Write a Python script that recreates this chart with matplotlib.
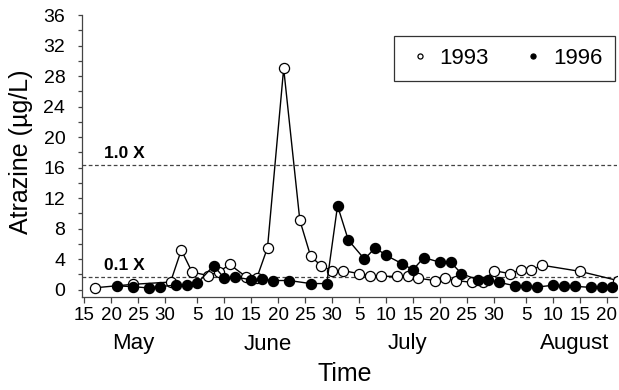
import numpy as np
import pandas as pd
import matplotlib
matplotlib.use("Agg")
import matplotlib.pyplot as plt
from matplotlib.ticker import MultipleLocator
from matplotlib.transforms import blended_transform_factory

plt.rcParams['font.family'] = ['Liberation Sans', 'DejaVu Sans']

# sampling dates (month-day) and atrazine concentrations (ug/L)
dates_1993 = ["05-17", "05-24", "05-31", "06-02", "06-04", "06-07", "06-09", "06-11",
              "06-14", "06-16", "06-18", "06-21", "06-24", "06-26", "06-28", "06-30",
              "07-02", "07-05", "07-07", "07-09", "07-12", "07-14", "07-16", "07-19",
              "07-21", "07-23", "07-26", "07-28", "07-30", "08-02", "08-04", "08-06",
              "08-08", "08-15", "08-22"]
atz_1993 = [0.25, 0.7, 1.0, 5.2, 2.3, 1.85, 2.35, 3.3,
            1.7, 1.5, 5.5, 29.0, 9.1, 4.4, 3.1, 2.5,
            2.5, 2.1, 1.85, 1.75, 1.75, 1.75, 1.5, 1.2,
            1.5, 1.2, 0.95, 0.95, 2.5, 2.1, 2.6, 2.6,
            3.2, 2.4, 1.2]

dates_1996 = ["05-21", "05-24", "05-27", "05-29", "06-01", "06-03", "06-05", "06-08",
              "06-10", "06-12", "06-15", "06-17", "06-19", "06-22", "06-26", "06-29",
              "07-01", "07-03", "07-06", "07-08", "07-10", "07-13", "07-15", "07-17",
              "07-20", "07-22", "07-24", "07-27", "07-29", "07-31", "08-03", "08-05",
              "08-07", "08-10", "08-12", "08-14", "08-17", "08-19", "08-21"]
atz_1996 = [0.5, 0.4, 0.22, 0.4, 0.6, 0.55, 0.85, 3.15,
            1.5, 1.65, 1.3, 1.4, 1.2, 1.2, 0.8, 0.8,
            11.0, 6.5, 4.0, 5.5, 4.5, 3.4, 2.6, 4.2,
            3.6, 3.6, 2.1, 1.3, 1.3, 0.95, 0.5, 0.5,
            0.35, 0.57, 0.5, 0.44, 0.3, 0.3, 0.3]

tick_dates = ["05-15", "05-20", "05-25", "05-30", "06-05", "06-10", "06-15", "06-20",
              "06-25", "06-30", "07-05", "07-10", "07-15", "07-20", "07-25", "07-30",
              "08-05", "08-10", "08-15", "08-20"]
months = ["May", "June", "July", "August"]
month_pos = ["05-24", "06-18", "07-14", "08-14"]

level_1x = 16.4
level_01x = 1.64


def doy(md):
    return pd.to_datetime(["2001-" + d for d in md]).dayofyear.values.astype(float)


x93 = doy(dates_1993)
x96 = doy(dates_1996)
xt = doy(tick_dates)

fig = plt.figure(figsize=(6.19, 3.90), dpi=100)
ax = fig.add_axes([0.1325, 0.2377, 0.8645, 0.7238])

ax.axhline(level_1x, color='#444444', lw=0.9, ls=(0, (3, 2)))
ax.axhline(level_01x, color='#444444', lw=0.9, ls=(0, (3, 2)))
ax.text(138.6, level_1x + 0.5, "1.0 X", fontsize=12.5, fontweight='bold', va='bottom')
ax.text(138.6, level_01x + 0.5, "0.1 X", fontsize=12.5, fontweight='bold', va='bottom')

ax.plot(x93, atz_1993, color='black', lw=1, marker='o', ms=7.3,
        mfc='white', mec='black', mew=0.9, label='1993')
ax.plot(x96, atz_1996, color='black', lw=1, marker='o', ms=7.3,
        mfc='black', mec='black', mew=0.9, label='1996')

ax.set_xlim(134.57, 233.9)
ax.set_ylim(-1, 36)
ax.yaxis.set_major_locator(MultipleLocator(4))
ax.yaxis.set_minor_locator(MultipleLocator(2))
ax.set_xticks(xt)
ax.set_xticklabels([d[3:].lstrip('0') for d in tick_dates])
ax.tick_params(axis='x', length=4, width=0.9, labelsize=13.5, pad=3, color='#444444')
ax.tick_params(axis='y', which='both', length=3, width=0.9, labelsize=14, pad=9, color='#444444')

for s in ['top', 'right']:
    ax.spines[s].set_visible(False)
for s in ['left', 'bottom']:
    ax.spines[s].set_color('#444444')
    ax.spines[s].set_linewidth(0.9)

trans = blended_transform_factory(ax.transData, fig.transFigure)
for m, p in zip(months, doy(month_pos)):
    ax.text(p, 1 - 344 / 390, m, transform=trans, ha='center', va='center', fontsize=16)

fig.text(345 / 619, 1 - 374 / 390, "Time", ha='center', va='center', fontsize=18)
fig.text(21 / 619, 1 - 152 / 390, "Atrazine (µg/L)", ha='center', va='center',
         rotation=90, fontsize=18)

leg = ax.legend(loc='lower left', bbox_to_anchor=(0.583, 0.766, 0.413, 0.167),
                mode='expand', ncol=2, fontsize=16, markerscale=0.5,
                handlelength=1.2, handletextpad=0.3, borderpad=0.55, borderaxespad=0,
                columnspacing=1.5, fancybox=False, framealpha=1, edgecolor='#333333')
for h in leg.get_lines():
    h.set_linestyle('none')
leg.get_frame().set_linewidth(0.9)

fig.savefig("out.png", dpi=100)
